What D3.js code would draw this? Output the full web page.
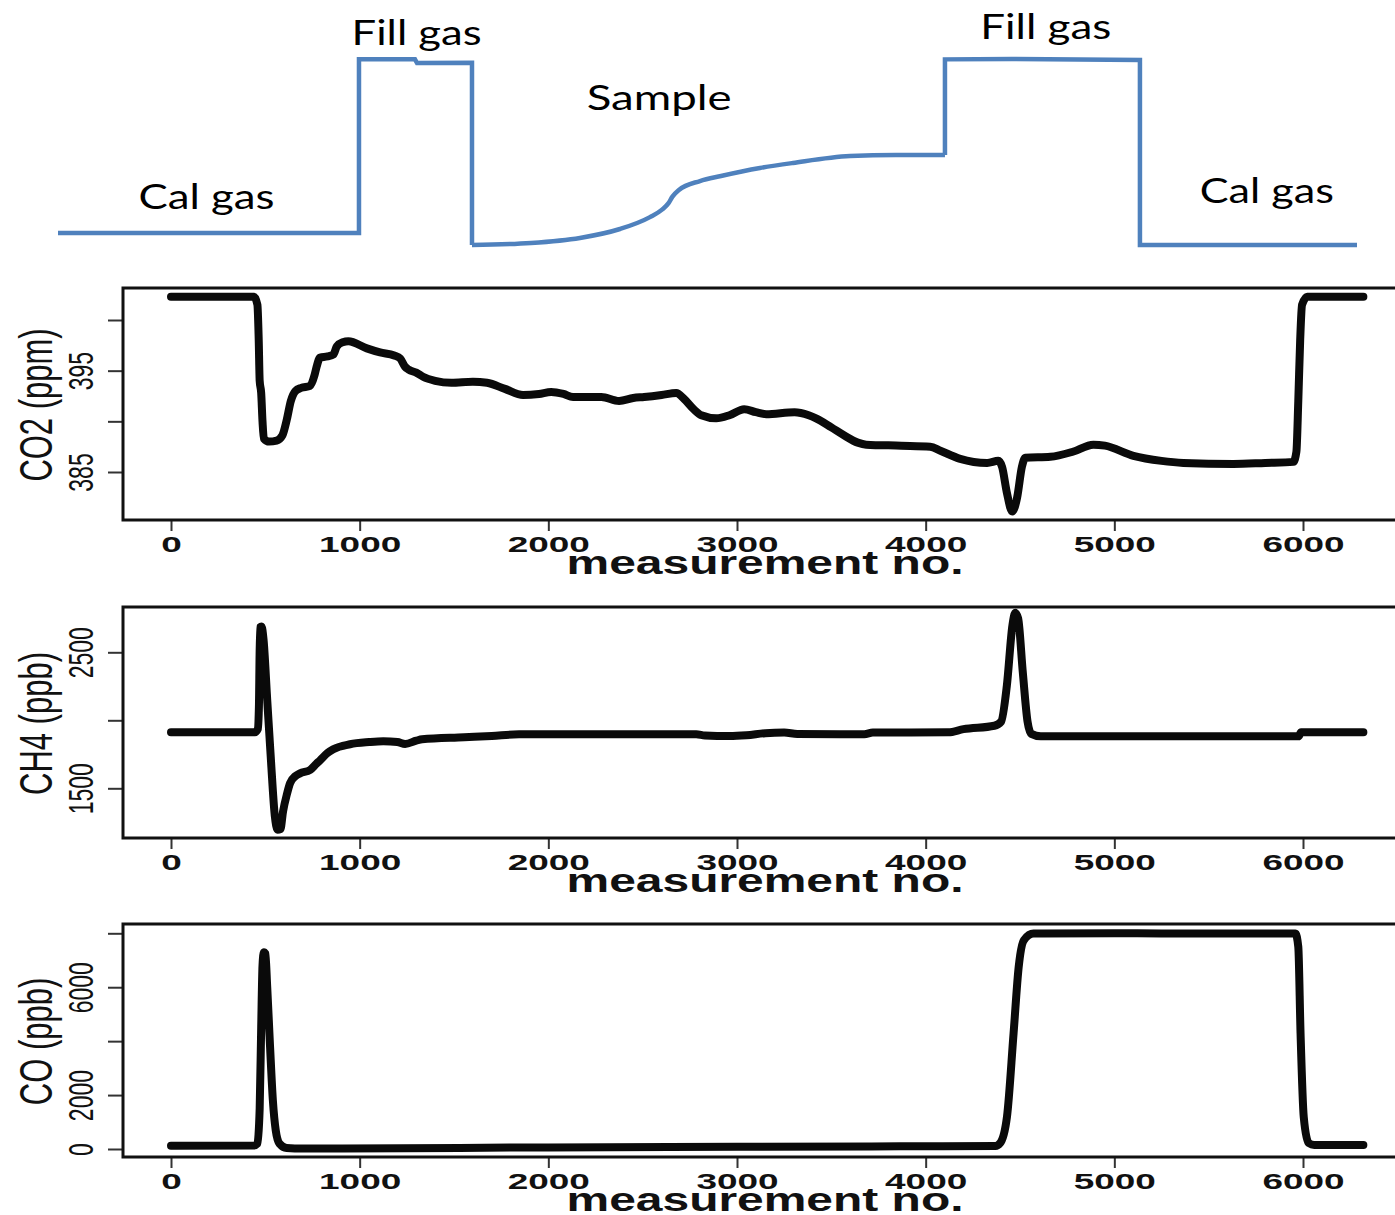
<!DOCTYPE html>
<html>
<head>
<meta charset="utf-8">
<script src="https://cdn.jsdelivr.net/npm/d3@7"></script>
<style>
  body { margin: 0; background: #fff; }
</style>
</head>
<body>
<div id="chart"></div>
<script>
// x axis ticks shared by all three panels
const measurementTicks = [0, 1000, 2000, 3000, 4000, 5000, 6000];

const co2Data = [
  [0, 402.3], [200, 402.3], [440, 402.3], [458, 401.5], [465, 398], [470, 394], [478, 392.8],
  [485, 390], [492, 388.3], [520, 388.0], [560, 388.1], [590, 388.6], [613, 390.1], [635, 392.0],
  [660, 393.0], [690, 393.3], [737, 393.5], [760, 394.5], [772, 395.4], [790, 396.3], [830, 396.4],
  [861, 396.6], [879, 397.4], [910, 397.8], [940, 397.9], [1038, 397.2], [1108, 396.8], [1183, 396.5],
  [1215, 396.2], [1240, 395.4], [1260, 395.1], [1300, 394.8], [1336, 394.4], [1400, 394.0], [1486, 393.8],
  [1600, 393.9], [1675, 393.8], [1770, 393.2], [1866, 392.6], [1950, 392.7], [2015, 392.9], [2080, 392.7],
  [2131, 392.4], [2281, 392.4], [2375, 392.0], [2450, 392.3], [2508, 392.4], [2600, 392.6], [2678, 392.8],
  [2720, 392.2], [2770, 391.2], [2811, 390.6], [2890, 390.3], [2960, 390.6], [3038, 391.2], [3100, 390.9],
  [3155, 390.7], [3305, 390.9], [3380, 390.6], [3419, 390.3], [3500, 389.4], [3569, 388.6], [3640, 387.9],
  [3685, 387.7], [3871, 387.6], [4024, 387.5], [4078, 387.1], [4183, 386.3], [4326, 385.9], [4385, 386.1],
  [4405, 385.5], [4430, 383], [4459, 381.1], [4485, 382.5], [4510, 385.5], [4528, 386.4], [4661, 386.5],
  [4780, 387.0], [4889, 387.7], [4950, 387.6], [5101, 386.6], [5250, 386.1], [5366, 385.9], [5631, 385.8],
  [5800, 385.9], [5949, 386.0], [5965, 387], [5975, 392], [5985, 398], [5995, 401.5], [6023, 402.3],
  [6150, 402.3], [6320, 402.3]
];
const co2Ticks = [385, 390, 395, 400];
const co2TickLabels = [385, 395];

// CH4 (ppb)
const ch4Data = [
  [0, 1912], [300, 1912], [445, 1912], [460, 1935], [466, 2100], [472, 2684], [480, 2690], [490, 2600],
  [510, 2150], [530, 1700], [550, 1300], [565, 1195], [580, 1200], [594, 1330], [615, 1460], [631, 1537],
  [660, 1590], [684, 1610], [737, 1635], [770, 1680], [790, 1706], [830, 1760], [860, 1787], [949, 1824],
  [1050, 1840], [1125, 1846], [1200, 1840], [1241, 1826], [1300, 1850], [1331, 1860], [1554, 1875],
  [1700, 1885], [1845, 1897], [2784, 1897], [2830, 1888], [2960, 1884], [3050, 1890], [3150, 1905],
  [3250, 1910], [3320, 1900], [3675, 1898], [3720, 1910], [4120, 1912], [4200, 1935], [4364, 1960],
  [4400, 1990], [4430, 2250], [4460, 2700], [4475, 2790], [4490, 2750], [4515, 2350], [4540, 1990],
  [4560, 1900], [4610, 1882], [5976, 1882], [5990, 1912], [6320, 1912]
];
const ch4Ticks = [1500, 2000, 2500];
const ch4TickLabels = [1500, 2500];

// CO (ppb)
const coData = [
  [0, 120], [440, 130], [458, 200], [470, 1500], [478, 4500], [485, 6800], [492, 7300], [500, 7250],
  [510, 6000], [525, 3800], [540, 1800], [555, 700], [575, 200], [613, 40], [700, 20], [1232, 30],
  [2000, 60], [3000, 80], [3865, 100], [4370, 111], [4395, 220], [4431, 1196], [4466, 4296], [4493, 6752],
  [4520, 7741], [4572, 7988], [5000, 8000], [5500, 7990], [5960, 7990], [5975, 7500],
  [5987, 4296], [6004, 1185], [6030, 222], [6060, 150], [6320, 148]
];
const coTicks = [0, 2000, 4000, 6000, 8000];
const coTickLabels = [0, 2000, 6000];

// schematic of the gas sequence, [position 0-100, level 0-1]
const schematicSteps1 = [
  [0, 0.065], [23.17, 0.065], [23.17, 0.998], [27.48, 0.998], [27.64, 0.978], [31.87, 0.98], [31.87, 0]
];
const schematicSample = [
  [31.87, 0], [36.41, 0.011], [40.18, 0.038], [43.26, 0.086], [45.57, 0.15], [46.5, 0.19], [47.0, 0.225],
  [47.3, 0.26], [47.8, 0.296], [49.42, 0.344], [51.04, 0.371], [54.04, 0.414], [56.58, 0.441],
  [60.97, 0.478], [64.5, 0.484], [68.28, 0.484]
];
const schematicSteps2 = [
  [68.28, 0.484], [68.28, 0.998], [73.44, 1.0], [83.29, 0.995], [83.29, 0], [100, 0]
];
const schematicLabels = [
  { text: "Cal gas", pos: 6.2, level: 0.193, len: 136 },
  { text: "Fill gas", pos: 22.6, level: 1.075, len: 130 },
  { text: "Sample", pos: 40.7, level: 0.725, len: 145 },
  { text: "Fill gas", pos: 71.0, level: 1.108, len: 131 },
  { text: "Cal gas", pos: 87.9, level: 0.226, len: 134 }
];

const width = 1395;
const height = 1215;
const boxLeft = 123;
const boxRight = 1411;

const svg = d3.select("#chart")
  .append("svg")
  .attr("width", width)
  .attr("height", height)
  .style("display", "block");

// ---- schematic ----
const sx = d3.scaleLinear().domain([0, 100]).range([58, 1357]);
const sy = d3.scaleLinear().domain([0, 1]).range([245, 59]);

const schemLine = d3.line().x(d => sx(d[0])).y(d => sy(d[1]));
const schemCurve = d3.line().x(d => sx(d[0])).y(d => sy(d[1])).curve(d3.curveMonotoneX);

[schematicSteps1, schematicSteps2].forEach(pts => {
  svg.append("path")
    .attr("d", schemLine(pts))
    .attr("fill", "none")
    .attr("stroke", "#4f81bd")
    .attr("stroke-width", 4.5);
});
svg.append("path")
  .attr("d", schemCurve(schematicSample))
  .attr("fill", "none")
  .attr("stroke", "#4f81bd")
  .attr("stroke-width", 4.5);

svg.selectAll(".schem-label")
  .data(schematicLabels)
  .enter()
  .append("text")
  .attr("class", "schem-label")
  .attr("x", d => sx(d.pos))
  .attr("y", d => sy(d.level))
  .attr("textLength", d => d.len)
  .attr("lengthAdjust", "spacingAndGlyphs")
  .attr("font-family", "Lato, 'Open Sans', sans-serif")
  .attr("font-size", "34px")
  .attr("fill", "#000")
  .text(d => d.text);

// ---- the three measurement panels ----
const panels = [
  { data: co2Data, ticks: co2Ticks, labels: co2TickLabels, title: "CO2 (ppm)", top: 288, bottom: 520, domain: [385, 400], range: [472, 320] },
  { data: ch4Data, ticks: ch4Ticks, labels: ch4TickLabels, title: "CH4 (ppb)", top: 607, bottom: 838, domain: [1500, 2500], range: [788.3, 652.3] },
  { data: coData, ticks: coTicks, labels: coTickLabels, title: "CO (ppb)", top: 924, bottom: 1157, domain: [0, 8000], range: [1149, 933.3] }
];

const x = d3.scaleLinear().domain([0, 6000]).range([171, 1303]);

panels.forEach(p => {
  const y = d3.scaleLinear().domain(p.domain).range(p.range);
  const g = svg.append("g");

  // data
  const line = d3.line()
    .x(d => x(d[0]))
    .y(d => y(d[1]))
    .curve(d3.curveMonotoneX);

  g.append("path")
    .attr("d", line(p.data))
    .attr("fill", "none")
    .attr("stroke", "#0a0a0a")
    .attr("stroke-width", 8)
    .attr("stroke-linecap", "round")
    .attr("stroke-linejoin", "round");

  // x axis
  const xAxis = g.append("g")
    .attr("transform", `translate(0,${p.bottom})`)
    .call(d3.axisBottom(x).tickValues(measurementTicks).tickSize(11).tickFormat(d3.format("d")));
  xAxis.select(".domain").remove();
  xAxis.selectAll("line").attr("stroke", "#333").attr("stroke-width", 2);
  xAxis.selectAll("text")
    .attr("y", 32)
    .attr("dy", null)
    .attr("transform", "scale(1.68,1)")
    .attr("font-family", "'Liberation Sans', Arial, sans-serif")
    .attr("font-weight", "bold")
    .attr("font-size", "22px")
    .attr("fill", "#111");

  g.append("text")
    .attr("x", (boxLeft + boxRight) / 2 - 2)
    .attr("y", p.bottom + 54)
    .attr("text-anchor", "middle")
    .attr("textLength", 397)
    .attr("lengthAdjust", "spacingAndGlyphs")
    .attr("font-family", "'Liberation Sans', Arial, sans-serif")
    .attr("font-weight", "bold")
    .attr("font-size", "33px")
    .attr("fill", "#111")
    .text("measurement no.");

  // y axis
  const yAxis = g.append("g")
    .attr("transform", `translate(${boxLeft},0)`)
    .call(d3.axisLeft(y).tickValues(p.ticks).tickSize(15)
      .tickFormat(d => p.labels.includes(d) ? d : ""));
  yAxis.select(".domain").remove();
  yAxis.selectAll("line").attr("stroke", "#333").attr("stroke-width", 2);
  yAxis.selectAll("text")
    .attr("x", null)
    .attr("dy", null)
    .attr("text-anchor", "middle")
    .attr("transform", "translate(-30,0) scale(1.5,1) rotate(-90)")
    .attr("font-family", "'Liberation Sans', Arial, sans-serif")
    .attr("font-size", "23px")
    .attr("fill", "#111");

  g.append("text")
    .attr("text-anchor", "middle")
    .attr("transform", `translate(52,${(p.top + p.bottom) / 2 + 1}) scale(1.5,1) rotate(-90)`)
    .attr("font-family", "'Liberation Sans', Arial, sans-serif")
    .attr("font-size", "31px")
    .attr("fill", "#111")
    .text(p.title);

  // frame
  g.append("rect")
    .attr("x", boxLeft)
    .attr("y", p.top)
    .attr("width", boxRight - boxLeft)
    .attr("height", p.bottom - p.top)
    .attr("fill", "none")
    .attr("stroke", "#111")
    .attr("stroke-width", 3);
});
</script>
</body>
</html>
